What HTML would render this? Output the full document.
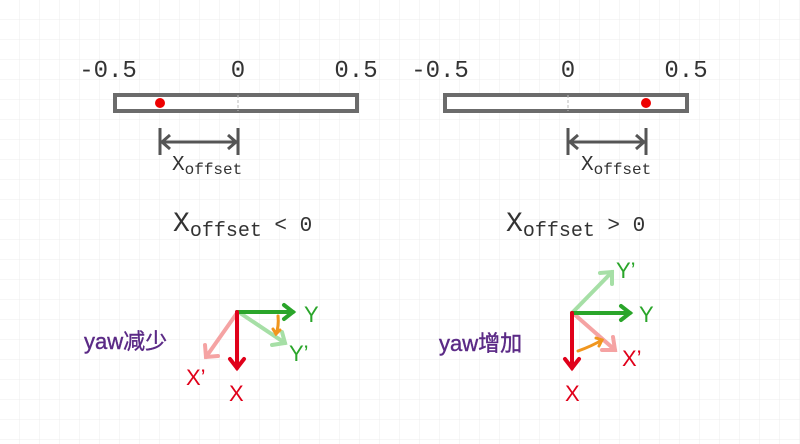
<!DOCTYPE html>
<html><head><meta charset="utf-8"><style>
html,body{margin:0;padding:0;background:#fff}
svg{display:block}
.t{font-family:"Liberation Mono","DejaVu Sans Mono",monospace;fill:#333}
.s{font-family:"Liberation Sans","DejaVu Sans",sans-serif;font-weight:normal}
</style></head><body>
<svg width="800" height="444" viewBox="0 0 800 444" xmlns="http://www.w3.org/2000/svg">
<defs>
<pattern id="g" width="20" height="20" patternUnits="userSpaceOnUse" x="0" y="0">
<path d="M20 0V20M0 20H20" fill="none" stroke="#ececec" stroke-width="1"/>
</pattern>
</defs>
<rect width="800" height="444" fill="url(#g)"/>

<!-- left bar -->
<rect x="115" y="95" width="242" height="16" fill="#fff" stroke="#6b6b6b" stroke-width="4"/>
<line x1="238" y1="95" x2="238" y2="111" stroke="#bbb" stroke-width="1" stroke-dasharray="3,2"/>
<circle cx="160" cy="103" r="5" fill="#e00"/>
<text class="t" x="108" y="77" font-size="24" text-anchor="middle">-0.5</text>
<text class="t" x="238" y="77" font-size="24" text-anchor="middle">0</text>
<text class="t" x="356" y="77" font-size="24" text-anchor="middle">0.5</text>
<g stroke="#555" stroke-width="3" fill="none">
<line x1="160" y1="128" x2="160" y2="155"/><line x1="238" y1="128" x2="238" y2="155"/>
<line x1="162" y1="142" x2="236" y2="142"/>
<polyline points="170,135 162,142 170,149"/><polyline points="228,135 236,142 228,149"/>
</g>
<text class="t" x="172" y="170" font-size="21">X<tspan font-size="16" dy="4">offset</tspan></text>
<text class="t" x="173" y="231" font-size="28">X<tspan font-size="20" dy="5">offset</tspan><tspan dy="-5" font-size="21"> &lt; 0</tspan></text>

<!-- right bar -->
<rect x="445" y="95" width="242" height="16" fill="#fff" stroke="#6b6b6b" stroke-width="4"/>
<line x1="568" y1="95" x2="568" y2="111" stroke="#bbb" stroke-width="1" stroke-dasharray="3,2"/>
<circle cx="646" cy="103" r="5" fill="#e00"/>
<text class="t" x="440" y="77" font-size="24" text-anchor="middle">-0.5</text>
<text class="t" x="568" y="77" font-size="24" text-anchor="middle">0</text>
<text class="t" x="686" y="77" font-size="24" text-anchor="middle">0.5</text>
<g stroke="#555" stroke-width="3" fill="none">
<line x1="568" y1="128" x2="568" y2="155"/><line x1="646" y1="128" x2="646" y2="155"/>
<line x1="570" y1="142" x2="644" y2="142"/>
<polyline points="578,135 570,142 578,149"/><polyline points="636,135 644,142 636,149"/>
</g>
<text class="t" x="581" y="170" font-size="21">X<tspan font-size="16" dy="4">offset</tspan></text>
<text class="t" x="506" y="231" font-size="28">X<tspan font-size="20" dy="5">offset</tspan><tspan dy="-5" font-size="21"> &gt; 0</tspan></text>

<!-- left axes -->
<g fill="none" stroke-width="4" stroke-linecap="round">
<g stroke="#f5a3a3"><line x1="237" y1="313" x2="206" y2="357"/><polyline points="205,345 206,357 218,356"/></g>
<g stroke="#a6dfa6"><line x1="240" y1="313" x2="285" y2="343"/><polyline points="272,345 285,343 282,332"/></g>
<g stroke="#2aa52a"><line x1="237" y1="312" x2="293" y2="312"/><polyline points="284,305 293,312 284,319"/></g>
<g stroke="#e0001a"><line x1="237" y1="312" x2="237" y2="368"/><polyline points="230,359 237,368 244,359"/></g>
<g stroke="#f0961e" stroke-width="3"><path d="M278,316 Q279,326 276,334"/><polyline points="273,329 276,334 280,330"/></g>
</g>
<text class="s" x="304" y="322" font-size="22" fill="#2aa52a">Y</text>
<text class="s" x="289" y="361" font-size="22" fill="#2aa52a">Y’</text>
<text class="s" x="229" y="401" font-size="22" fill="#e0001a">X</text>
<text class="s" x="186" y="385" font-size="22" fill="#e0001a">X’</text>
<text x="84" y="349" font-size="22" fill="#5b2a86" stroke="#5b2a86" stroke-width="0.4" font-family="'Liberation Sans','Noto Sans CJK SC',sans-serif">yaw减少</text>

<!-- right axes -->
<g fill="none" stroke-width="4" stroke-linecap="round">
<g stroke="#a6dfa6"><line x1="572" y1="313" x2="612" y2="272"/><polyline points="600,273 612,272 612,284"/></g>
<g stroke="#f5a3a3"><line x1="574" y1="314" x2="615" y2="350"/><polyline points="613,337 615,350 602,350"/></g>
<g stroke="#2aa52a"><line x1="572" y1="313" x2="630" y2="313"/><polyline points="621,306 630,313 621,320"/></g>
<g stroke="#e0001a"><line x1="572" y1="313" x2="572" y2="368"/><polyline points="565,359 572,368 579,359"/></g>
<g stroke="#f0961e" stroke-width="3"><path d="M578,351 Q592,346 602,340"/><polyline points="596,338 602,340 599,346"/></g>
</g>
<text class="s" x="616" y="278" font-size="22" fill="#2aa52a">Y’</text>
<text class="s" x="639" y="322" font-size="22" fill="#2aa52a">Y</text>
<text class="s" x="622" y="366" font-size="22" fill="#e0001a">X’</text>
<text class="s" x="565" y="401" font-size="22" fill="#e0001a">X</text>
<text x="439" y="351" font-size="22" fill="#5b2a86" stroke="#5b2a86" stroke-width="0.4" font-family="'Liberation Sans','Noto Sans CJK SC',sans-serif">yaw增加</text>
</svg>
</body></html>
